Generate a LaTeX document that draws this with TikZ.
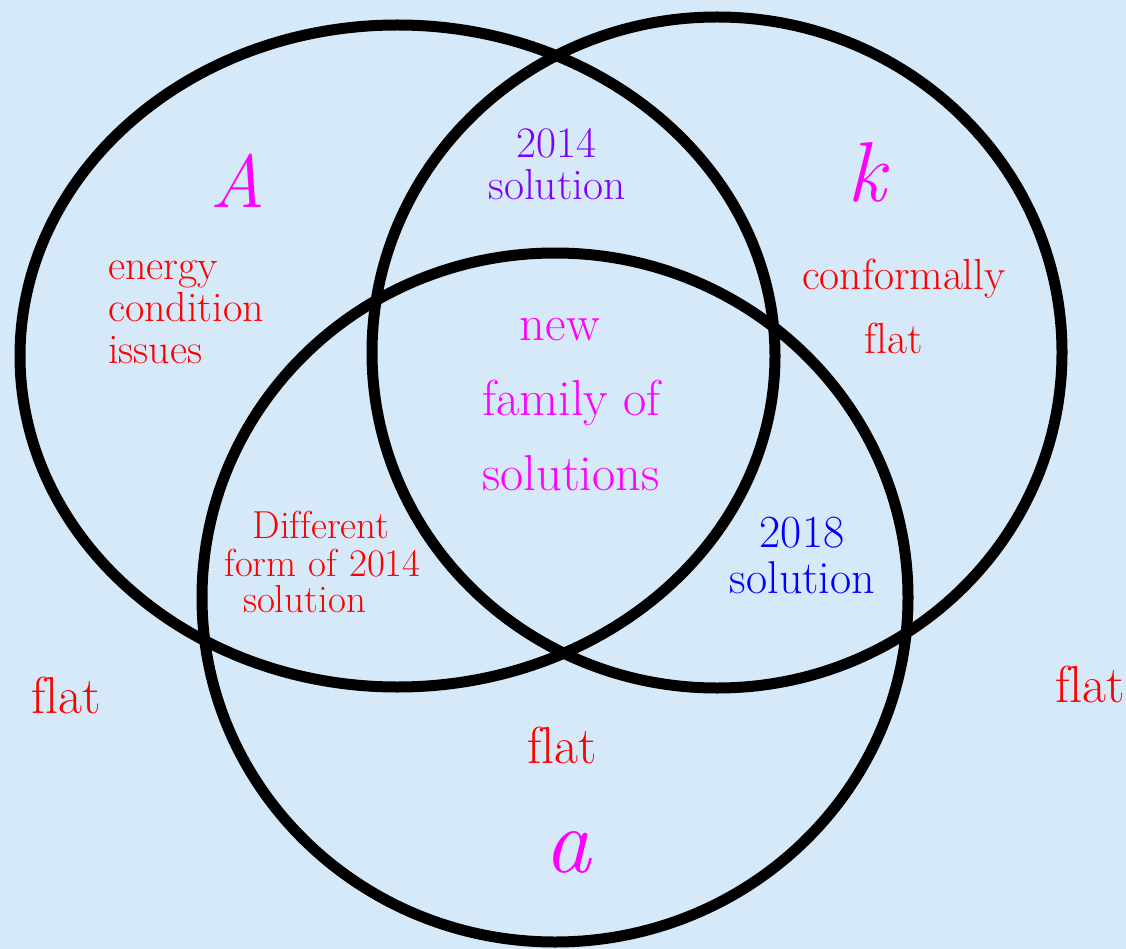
\documentclass[tikz,border=0pt]{standalone}
\usepackage{fontspec}
\setmainfont{Latin Modern Roman}[Ligatures={TeX,NoCommon}]
\definecolor{bgblue}{RGB}{214,233,249}
\definecolor{violetsol}{RGB}{128,0,255}
\definecolor{paramcol}{RGB}{255,0,255}
\newcommand{\fsz}[1]{\fontsize{#1}{#1}\selectfont}

\begin{document}
\begin{tikzpicture}[x=1pt, y=-1pt, inner sep=0pt,
    ring/.style={line width=11pt},
    param/.style={paramcol, anchor=base},
    note/.style={red, anchor=base}]
		\fill[bgblue] (0,0) rectangle (1126,949);
		% the three sets
		\draw[ring] (397.5,356) ellipse [x radius=377.5pt, y radius=331pt];
		\draw[ring] (717,352.5) ellipse [x radius=345pt, y radius=335.5pt];
		\draw[ring] (555,597.5) ellipse [x radius=353pt, y radius=344.5pt];
		
		% parameters
		\node[param, font=\fsz{75}\itshape] (labA) at (238,208) {A};
		\node[param, font=\fsz{85}\itshape] (labk) at (867,202) {k};
		\node[param, font=\fsz{93}\itshape] (laba) at (568,872) {a};
		
		% only A
		\node[note, anchor=base west, font=\fsz{42}] (energy) at (108,280) {energy};
		\node[note, anchor=base west, font=\fsz{42}] (condition) at (108,322) {condition};
		\node[note, anchor=base west, font=\fsz{42}] (issues) at (108,363) {issues};
		
		% A and k
		\node[note, violetsol, font=\fsz{43.5}] (year14) at (556.5,158) {2014};
		\node[note, violetsol, font=\fsz{43.5}] (sol14) at (557,200) {solution};
		
		% only k
		\node[note, font=\fsz{43.5}] (conformally) at (904,290) {conformally};
		\node[note, font=\fsz{43.5}] (flatk) at (894,353) {flat};
		
		% all three
		\node[param, font=\fsz{50.5}] (new) at (560,340) {new};
		\node[param, font=\fsz{50.5}] (family) at (571.5,415) {family of};
		\node[param, font=\fsz{50.5}] (solutions) at (571,490) {solutions};
		
		% A and a
		\node[note, font=\fsz{39}] (different) at (321,538) {Different};
		\node[note, font=\fsz{39}] (formof) at (322.5,576) {form of 2014};
		\node[note, font=\fsz{39}] (solform) at (304.5,612) {solution};
		
		% k and a
		\node[note, blue, font=\fsz{46}] (year18) at (802,547) {2018};
		\node[note, blue, font=\fsz{46}] (sol18) at (802.5,593) {solution};
		
		% flat cases
		\node[note, font=\fsz{52}] (flata) at (562,763) {flat};
		\node[note, font=\fsz{52}] (flatleft) at (66,713) {flat};
		\node[note, font=\fsz{52}] (flatright) at (1090,702) {flat};
	\end{tikzpicture}
\end{document}
